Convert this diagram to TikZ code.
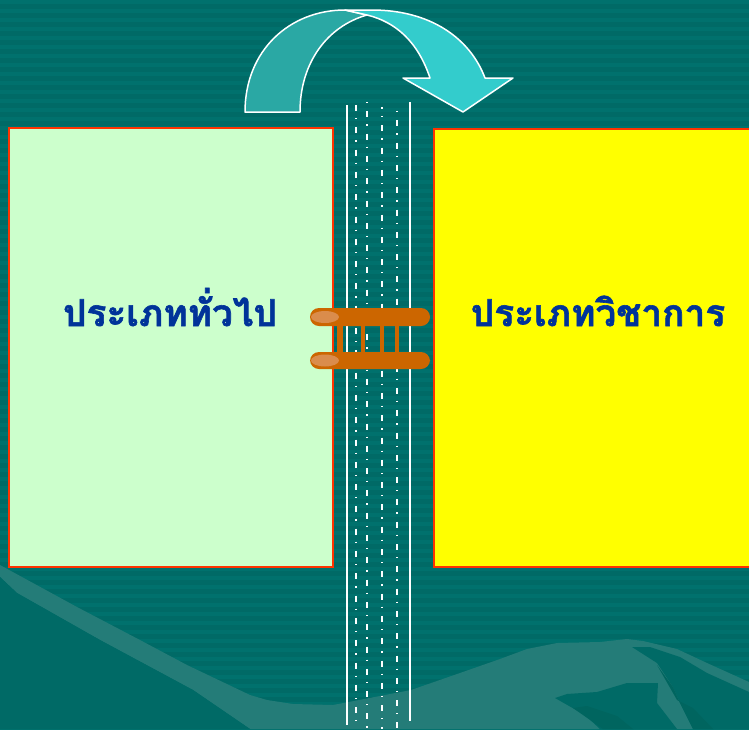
\documentclass[tikz,border=0pt]{standalone}
\usepackage{fontspec}
\newfontfamily\thaifont[Script=Thai, BoldFeatures={FakeBold=1.6}]{Loma}
\definecolor{bgteal}{HTML}{006A66}
\definecolor{stripeteal}{HTML}{00716D}
\definecolor{hilllight}{HTML}{247C78}
\definecolor{hilldark}{HTML}{00655F}
\definecolor{arrowback}{HTML}{2AA8A4}
\definecolor{arrowfront}{HTML}{33CCCC}
\definecolor{boxgreen}{HTML}{CCFFCC}
\definecolor{boxyellow}{HTML}{FFFF00}
\definecolor{boxedge}{HTML}{FF3300}
\definecolor{thaiblue}{HTML}{003399}
\definecolor{bridge}{HTML}{CC6600}
\definecolor{bridgelight}{HTML}{DA8C4C}
\tikzset{
  panel/.style={draw=boxedge, line width=2pt, anchor=north west, inner sep=0pt},
  heading/.style={font=\thaifont\bfseries\fontsize{37}{40}\selectfont, text=thaiblue, anchor=base, inner sep=0pt},
  roadedge/.style={draw=white, line width=1.6pt},
  roaddash/.style={draw=white, line width=1.6pt, dash pattern=on 6pt off 7pt on 1.3pt off 8pt},
  arrowline/.style={draw=white, line width=1.5pt, line join=round},
  beam/.style={fill=bridge, rounded corners=9pt},
  post/.style={fill=bridge}
}
\begin{document}
\begin{tikzpicture}[x=1pt, y=-1pt]
\useasboundingbox (0,0) rectangle (749,729);
% background with faint horizontal stripes
\fill[bgteal] (0,0) rectangle (749,729);
\foreach \i in {0,...,81} {
  \fill[stripeteal] (0,\i*9) rectangle (749,\i*9+4);
}
% hills along the bottom
\fill[hilllight] (0,565) -- (77,607) -- (140,640) -- (187,665) -- (250,695) -- (267,700)
  -- (293,704) -- (333,705) -- (411,690) -- (460,673) -- (500,659) -- (527,649)
  -- (557,643) -- (600,642) -- (627,639) -- (643,641) -- (677,649) -- (707,663)
  -- (749,682) -- (749,729) -- (250,729) -- (193,690) -- (100,640) -- (17,593)
  -- (0,577) -- cycle;
\fill[bgteal] (0,577) -- (17,593) -- (100,640) -- (193,690) -- (250,729) -- (0,729) -- cycle;
\fill[bgteal] (555,698) -- (567,694) -- (597,692) -- (627,683) -- (658,683)
  -- (657,703) -- (677,729) -- (600,729) -- (585,715) -- cycle;
\fill[hilldark] (573,708) -- (587,706) -- (617,716) -- (633,729) -- (603,729) -- cycle;
\fill[bgteal] (632,647) -- (650,647) -- (680,657) -- (707,673) -- (749,692)
  -- (749,729) -- (693,729) -- (680,703) -- (673,687) -- (657,663) -- cycle;
\fill[hilldark] (657,665) -- (677,700) -- (693,708) -- (713,729) -- (693,729)
  -- (680,703) -- (673,687) -- cycle;
% road running down the middle
\draw[roadedge] (347,105) coordinate (rl1) -- (347,725) coordinate (rl2);
\draw[roadedge] (410,102) coordinate (rr1) -- (410,721) coordinate (rr2);
\draw[roaddash] (356,105) -- (356,729);
\draw[roaddash, dash phase=9pt] (367,98) -- (367,729);
\draw[roaddash, dash phase=4pt] (382,107) -- (382,729);
\draw[roaddash, dash phase=12pt] (397,110) -- (397,729);
% the two panels
\node[panel, fill=boxgreen, minimum width=324pt, minimum height=439pt] (general) at (8,127) {};
\node[panel, fill=boxyellow, minimum width=320pt, minimum height=438pt] (academic) at (433,128) {};
\node[heading] (generaltext) at (170,326) {ประเภททั่วไป};
\node[heading] (academictext) at (598,326) {ประเภทวิชาการ};
% bridge between the panels
\foreach \x/\w in {337/6,360.5/4,380/4,394.5/4} {
  \fill[post] (\x,324) rectangle (\x+\w,354);
}
\fill[beam] (310,308) rectangle (430,326);
\fill[beam] (310,352) rectangle (430,369);
\fill[bridgelight] (325,317) ellipse [x radius=14pt, y radius=6pt];
\fill[bridgelight] (325,360.5) ellipse [x radius=14pt, y radius=6pt];
% curved arrow over the road
\filldraw[fill=arrowback, arrowline] (245,112) .. controls (245,50) and (290,10) .. (345,10)
  -- (367,15) .. controls (328,26) and (300,62) .. (300,112) -- cycle;
\filldraw[fill=arrowfront, arrowline] (345,10) -- (372,10) .. controls (430,10) and (470,38) .. (485,78)
  -- (513,78) -- (463,112) -- (403,78) -- (430,78)
  .. controls (418,42) and (396,22) .. (367,15) -- cycle;
\end{tikzpicture}
\end{document}
